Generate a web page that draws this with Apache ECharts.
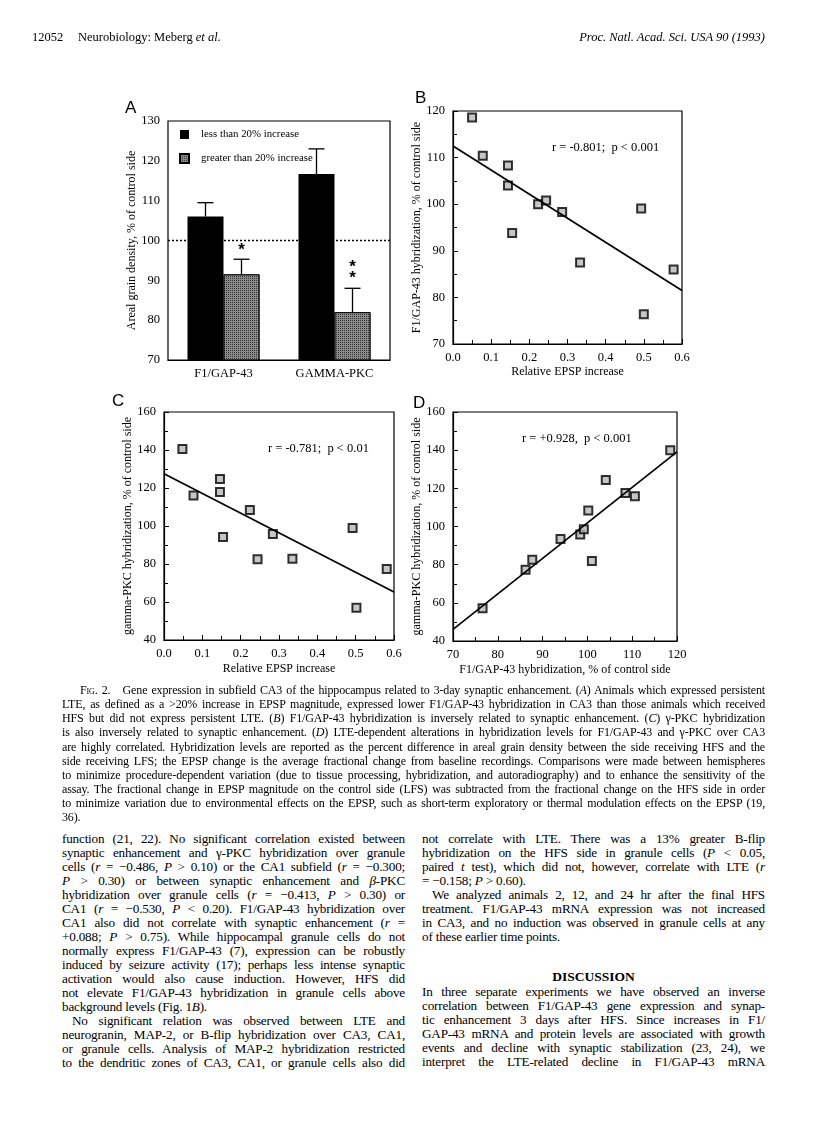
<!DOCTYPE html>
<html>
<head>
<meta charset="utf-8">
<script src="https://cdn.jsdelivr.net/npm/echarts@6/dist/echarts.min.js"></script>
<style>
  body { margin: 0; background: #fff; }
  #page { position: relative; width: 816px; height: 1122px; overflow: hidden; font-family: "Liberation Serif", serif; color: #000; }
  #chart { position: absolute; left: 0; top: 0; width: 816px; height: 690px; }
  .ln { position: absolute; height: 14px; line-height: 14px; text-align: justify; text-align-last: justify; white-space: nowrap; overflow: visible; }
  .last { text-align-last: left; }
  .cap { font-size: 12px; letter-spacing: -0.15px; left: 62px; width: 703px; }
  .lc { font-size: 13.2px; letter-spacing: -0.2px; left: 62px; width: 343px; }
  .rc { font-size: 13.2px; letter-spacing: -0.2px; left: 422px; width: 343px; }
  .sc { font-variant: small-caps; }
</style>
</head>
<body>
<div id="page">
  <div id="chart"></div>

  <div style="position:absolute; top:30px; left:32px; font-size:12.5px;">12052</div>
  <div style="position:absolute; top:30px; left:78px; font-size:12.5px;">Neurobiology: Meberg <i>et al.</i></div>
  <div style="position:absolute; top:30px; right:51px; font-size:12.5px;"><i>Proc. Natl. Acad. Sci. USA 90 (1993)</i></div>

  <div class="ln cap" style="top:683px; left:80px; width:685px;">F<span class="sc">ig</span>. 2.&nbsp;&nbsp; Gene expression in subfield CA3 of the hippocampus related to 3-day synaptic enhancement. (<i>A</i>) Animals which expressed persistent</div>
  <div class="ln cap" style="top:697px;">LTE, as defined as a &gt;20% increase in EPSP magnitude, expressed lower F1/GAP-43 hybridization in CA3 than those animals which received</div>
  <div class="ln cap" style="top:711px;">HFS but did not express persistent LTE. (<i>B</i>) F1/GAP-43 hybridization is inversely related to synaptic enhancement. (<i>C</i>) γ-PKC hybridization</div>
  <div class="ln cap" style="top:725px;">is also inversely related to synaptic enhancement. (<i>D</i>) LTE-dependent alterations in hybridization levels for F1/GAP-43 and γ-PKC over CA3</div>
  <div class="ln cap" style="top:740px;">are highly correlated. Hybridization levels are reported as the percent difference in areal grain density between the side receiving HFS and the</div>
  <div class="ln cap" style="top:754px;">side receiving LFS; the EPSP change is the average fractional change from baseline recordings. Comparisons were made between hemispheres</div>
  <div class="ln cap" style="top:768px;">to minimize procedure-dependent variation (due to tissue processing, hybridization, and autoradiography) and to enhance the sensitivity of the</div>
  <div class="ln cap" style="top:782px;">assay. The fractional change in EPSP magnitude on the control side (LFS) was subtracted from the fractional change on the HFS side in order</div>
  <div class="ln cap" style="top:796px;">to minimize variation due to environmental effects on the EPSP, such as short-term exploratory or thermal modulation effects on the EPSP (19,</div>
  <div class="ln cap last" style="top:810px;">36).</div>

  <!-- left column -->
  <div class="ln lc" style="top:832px;">function (21, 22). No significant correlation existed between</div>
  <div class="ln lc" style="top:846px;">synaptic enhancement and γ-PKC hybridization over granule</div>
  <div class="ln lc" style="top:860px;">cells (<i>r</i> = −0.486, <i>P</i> &gt; 0.10) or the CA1 subfield (<i>r</i> = −0.300;</div>
  <div class="ln lc" style="top:874px;"><i>P</i> &gt; 0.30) or between synaptic enhancement and <i>β</i>-PKC</div>
  <div class="ln lc" style="top:888px;">hybridization over granule cells (<i>r</i> = −0.413, <i>P</i> &gt; 0.30) or</div>
  <div class="ln lc" style="top:902px;">CA1 (<i>r</i> = −0.530, <i>P</i> &lt; 0.20). F1/GAP-43 hybridization over</div>
  <div class="ln lc" style="top:916px;">CA1 also did not correlate with synaptic enhancement (<i>r</i> =</div>
  <div class="ln lc" style="top:930px;">+0.088; <i>P</i> &gt; 0.75). While hippocampal granule cells do not</div>
  <div class="ln lc" style="top:944px;">normally express F1/GAP-43 (7), expression can be robustly</div>
  <div class="ln lc" style="top:958px;">induced by seizure activity (17); perhaps less intense synaptic</div>
  <div class="ln lc" style="top:972px;">activation would also cause induction. However, HFS did</div>
  <div class="ln lc" style="top:986px;">not elevate F1/GAP-43 hybridization in granule cells above</div>
  <div class="ln lc last" style="top:1000px;">background levels (Fig. 1<i>B</i>).</div>
  <div class="ln lc" style="top:1014px; left:72px; width:333px;">No significant relation was observed between LTE and</div>
  <div class="ln lc" style="top:1028px;">neurogranin, MAP-2, or B-flip hybridization over CA3, CA1,</div>
  <div class="ln lc" style="top:1042px;">or granule cells. Analysis of MAP-2 hybridization restricted</div>
  <div class="ln lc" style="top:1056px;">to the dendritic zones of CA3, CA1, or granule cells also did</div>

  <!-- right column -->
  <div class="ln rc" style="top:832px;">not correlate with LTE. There was a 13% greater B-flip</div>
  <div class="ln rc" style="top:846px;">hybridization on the HFS side in granule cells (<i>P</i> &lt; 0.05,</div>
  <div class="ln rc" style="top:860px;">paired <i>t</i> test), which did not, however, correlate with LTE (<i>r</i></div>
  <div class="ln rc last" style="top:874px;">= −0.158; <i>P</i> &gt; 0.60).</div>
  <div class="ln rc" style="top:888px; left:432px; width:333px;">We analyzed animals 2, 12, and 24 hr after the final HFS</div>
  <div class="ln rc" style="top:902px;">treatment. F1/GAP-43 mRNA expression was not increased</div>
  <div class="ln rc" style="top:916px;">in CA3, and no induction was observed in granule cells at any</div>
  <div class="ln rc last" style="top:930px;">of these earlier time points.</div>
  <div style="position:absolute; top:969px; left:422px; width:343px; text-align:center; font-size:13.5px; font-weight:bold;">DISCUSSION</div>
  <div class="ln rc" style="top:985px;">In three separate experiments we have observed an inverse</div>
  <div class="ln rc" style="top:999px;">correlation between F1/GAP-43 gene expression and synap-</div>
  <div class="ln rc" style="top:1013px;">tic enhancement 3 days after HFS. Since increases in F1/</div>
  <div class="ln rc" style="top:1027px;">GAP-43 mRNA and protein levels are associated with growth</div>
  <div class="ln rc" style="top:1041px;">events and decline with synaptic stabilization (23, 24), we</div>
  <div class="ln rc" style="top:1055px;">interpret the LTE-related decline in F1/GAP-43 mRNA</div>
</div>

<script>
// panel A: grain density by LTE group
const barCats = ['F1/GAP-43', 'GAMMA-PKC']
const lessMeans = [106, 116.7]
const lessErrTop = [109.5, 123]
const greaterMeans = [91.5, 82]
const greaterErrTop = [95.3, 88]
const starText = ['*', '*\n*']
const starY = [97.6, 91.8]

// panel B: F1/GAP-43 vs relative EPSP increase
const epspB = [0.05, 0.078, 0.144, 0.144, 0.155, 0.223, 0.244, 0.286, 0.333, 0.493, 0.5, 0.578]
const gapB = [118.6, 110.4, 108.3, 104.0, 93.8, 100.0, 100.8, 98.3, 87.5, 99.1, 76.4, 86.0]
const fitBx = [0, 0.6]
const fitBy = [112.5, 81.5]

// panel C: gamma-PKC vs relative EPSP increase
const epspC = [0.048, 0.077, 0.146, 0.146, 0.154, 0.224, 0.244, 0.284, 0.335, 0.492, 0.502, 0.581]
const pkcC = [140.5, 116.1, 124.7, 117.9, 94.2, 108.4, 82.5, 95.8, 82.8, 98.9, 57.0, 77.4]
const fitCx = [0, 0.6]
const fitCy = [127.5, 65.3]

// panel D: gamma-PKC vs F1/GAP-43
const gapD = [76.6, 86.2, 87.7, 94.0, 98.4, 99.2, 100.2, 101.0, 104.1, 108.5, 110.6, 118.5]
const pkcD = [57.1, 77.3, 82.6, 93.5, 95.8, 98.6, 108.4, 81.9, 124.4, 117.6, 115.9, 139.9]
const fitDx = [70, 120]
const fitDy = [46.1, 139.1]

const serif = 'Liberation Serif'
const zip = (a, b) => a.map((v, i) => [v, b[i]])

const valueAxis = (idx, min, max, interval, extra) => Object.assign({
  type: 'value', gridIndex: idx, min: min, max: max, interval: interval,
  splitLine: {show: false},
  axisLine: {lineStyle: {color: '#000', width: 1.2}},
  axisTick: {inside: true, length: 5, lineStyle: {color: '#000'}},
  minorTick: {show: true, splitNumber: 2, length: 4, lineStyle: {color: '#000'}},
  axisLabel: {fontFamily: serif, fontSize: 12.5, color: '#000', margin: 8},
  nameLocation: 'middle',
  nameTextStyle: {fontFamily: serif, fontSize: 12, color: '#000'}
}, extra)

const scatterStyle = {
  symbol: 'rect', symbolSize: 8,
  itemStyle: {color: '#b8b8b8', borderColor: '#000', borderWidth: 2}
}
const fitLine = (idx, xs, ys) => ({
  type: 'line', xAxisIndex: idx, yAxisIndex: idx, data: zip(xs, ys),
  symbol: 'none', silent: true, lineStyle: {color: '#000', width: 1.7}
})

// upper-only error bar, shifted sideways onto its bar
const errBar = (means, tops, shift) => ({
  type: 'custom', xAxisIndex: 0, yAxisIndex: 0,
  data: means.map((m, i) => [i, m, tops[i]]),
  renderItem: function (params, api) {
    let base = api.coord([api.value(0), api.value(1)])
    let top = api.coord([api.value(0), api.value(2)])
    let x = base[0] + shift
    return {
      type: 'group',
      children: [
        {type: 'line', shape: {x1: x, y1: base[1], x2: x, y2: top[1]}, style: {stroke: '#000', lineWidth: 1.3}},
        {type: 'line', shape: {x1: x - 8, y1: top[1], x2: x + 8, y2: top[1]}, style: {stroke: '#000', lineWidth: 1.3}}
      ]
    }
  },
  z: 5
})

let myChart = echarts.init(document.getElementById('chart'))
let option = {
  animation: false,
  grid: [
    {left: 168, top: 121, width: 222, height: 239, show: true, borderColor: '#000', borderWidth: 1.2},
    {left: 453, top: 111, width: 229, height: 233, show: true, borderColor: '#000', borderWidth: 1.2},
    {left: 164, top: 412, width: 230, height: 228, show: true, borderColor: '#000', borderWidth: 1.2},
    {left: 453, top: 412, width: 224, height: 229, show: true, borderColor: '#000', borderWidth: 1.2}
  ],
  legend: {
    left: 179, top: 129, padding: 0, orient: 'vertical', itemWidth: 9, itemHeight: 9, itemGap: 13,
    icon: 'rect',
    data: ['less than 20% increase', 'greater than 20% increase'],
    textStyle: {fontFamily: serif, fontSize: 10.8, color: '#000', padding: [0, 0, 0, 7]}
  },
  xAxis: [
    {
      type: 'category', gridIndex: 0, data: barCats,
      axisLine: {lineStyle: {color: '#000', width: 1.2}},
      axisTick: {show: false},
      axisLabel: {fontFamily: serif, fontSize: 12.5, color: '#000', margin: 7}
    },
    valueAxis(1, 0, 0.6, 0.1, {name: 'Relative EPSP increase', nameGap: 22, axisLabel: {fontFamily: serif, fontSize: 12.5, color: '#000', margin: 7, formatter: v => v.toFixed(1)}}),
    valueAxis(2, 0, 0.6, 0.1, {name: 'Relative EPSP increase', nameGap: 23, axisLabel: {fontFamily: serif, fontSize: 12.5, color: '#000', margin: 7, formatter: v => v.toFixed(1)}}),
    valueAxis(3, 70, 120, 10, {name: 'F1/GAP-43 hybridization, % of control side', nameGap: 23, axisLabel: {fontFamily: serif, fontSize: 12.5, color: '#000', margin: 7}})
  ],
  yAxis: [
    valueAxis(0, 70, 130, 10, {name: 'Areal grain density, % of control side', nameGap: 29, axisTick: {show: false}, minorTick: {show: false}}),
    valueAxis(1, 70, 120, 10, {name: 'F1/GAP-43 hybridization, % of control side', nameGap: 27}),
    valueAxis(2, 40, 160, 20, {name: 'gamma-PKC hybridization, % of control side', nameGap: 29}),
    valueAxis(3, 40, 160, 20, {name: 'gamma-PKC hybridization, % of control side', nameGap: 29})
  ],
  series: [
    {
      name: 'less than 20% increase', type: 'bar', xAxisIndex: 0, yAxisIndex: 0,
      data: lessMeans, barWidth: 36, barGap: 0,
      itemStyle: {color: '#000'},
      markLine: {
        silent: true, symbol: 'none', label: {show: false},
        lineStyle: {color: '#000', type: [2, 2], width: 1.4},
        data: [{yAxis: 100}]
      }
    },
    {
      name: 'greater than 20% increase', type: 'bar', xAxisIndex: 0, yAxisIndex: 0,
      data: greaterMeans, barWidth: 36, barGap: 0,
      itemStyle: {
        color: '#8a8a8a', borderColor: '#000', borderWidth: 0.8,
        decal: {symbol: 'rect', symbolSize: 1, dashArrayX: [1, 1], dashArrayY: [1, 1], color: 'rgba(0,0,0,0.6)'}
      }
    },
    errBar(lessMeans, lessErrTop, -18),
    errBar(greaterMeans, greaterErrTop, 18),
    {
      type: 'custom', xAxisIndex: 0, yAxisIndex: 0,
      data: starY.map((y, i) => [i, y]),
      renderItem: function (params, api) {
        let p = api.coord([api.value(0), api.value(1)])
        return {
          type: 'text',
          style: {
            x: p[0] + 18, y: p[1], text: starText[params.dataIndex],
            font: 'bold 17px "Liberation Sans"', fill: '#000',
            align: 'center', verticalAlign: 'middle', lineHeight: 11
          }
        }
      }
    },
    Object.assign({type: 'scatter', xAxisIndex: 1, yAxisIndex: 1, data: zip(epspB, gapB)}, scatterStyle),
    fitLine(1, fitBx, fitBy),
    Object.assign({type: 'scatter', xAxisIndex: 2, yAxisIndex: 2, data: zip(epspC, pkcC)}, scatterStyle),
    fitLine(2, fitCx, fitCy),
    Object.assign({type: 'scatter', xAxisIndex: 3, yAxisIndex: 3, data: zip(gapD, pkcD)}, scatterStyle),
    fitLine(3, fitDx, fitDy)
  ],
  graphic: [
    {type: 'text', left: 125, top: 100, style: {text: 'A', font: '17px "Liberation Sans"', fill: '#000'}},
    {type: 'text', left: 415, top: 90, style: {text: 'B', font: '17px "Liberation Sans"', fill: '#000'}},
    {type: 'text', left: 112, top: 393, style: {text: 'C', font: '17px "Liberation Sans"', fill: '#000'}},
    {type: 'text', left: 413, top: 395, style: {text: 'D', font: '17px "Liberation Sans"', fill: '#000'}},
    {type: 'text', left: 552, top: 141, style: {text: 'r = -0.801;  p < 0.001', font: '12.5px "Liberation Serif"', fill: '#000'}},
    {type: 'text', left: 268, top: 442, style: {text: 'r = -0.781;  p < 0.01', font: '12.5px "Liberation Serif"', fill: '#000'}},
    {type: 'text', left: 522, top: 432, style: {text: 'r = +0.928,  p < 0.001', font: '12.5px "Liberation Serif"', fill: '#000'}}
  ]
}
myChart.setOption(option)
</script>
</body>
</html>
